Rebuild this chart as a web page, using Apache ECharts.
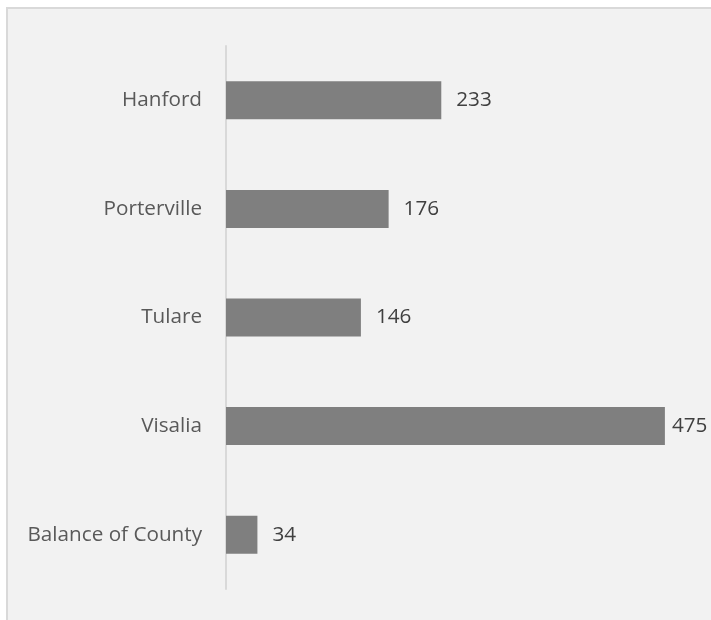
<!DOCTYPE html>
<html><head><meta charset="utf-8">
<script src="https://cdn.jsdelivr.net/npm/echarts@6/dist/echarts.min.js"></script>
<style>html,body{margin:0;padding:0;background:#fff}#c{width:711px;height:620px}</style>
</head><body><div id="c"></div>
<script>
const categories = ['Hanford', 'Porterville', 'Tulare', 'Visalia', 'Balance of County'];
const values = [233, 176, 146, 475, 34];
const labelDistances = [15, 15, 15, 7, 15];

const chart = echarts.init(document.getElementById('c'), null, {renderer: 'canvas'});
chart.setOption({
  backgroundColor: '#ffffff',
  animation: false,
  graphic: [{
    type: 'rect', silent: true, z: -10,
    shape: {x: 7, y: 8, width: 720, height: 630},
    style: {fill: '#f2f2f2', stroke: '#d9d9d9', lineWidth: 2}
  }],
  grid: {left: 226, top: 46, width: 462, height: 543},
  xAxis: {type: 'value', min: 0, max: 500, show: false},
  yAxis: {
    type: 'category', data: categories, inverse: true,
    axisLine: {show: true, lineStyle: {color: '#d9d9d9', width: 2}},
    axisTick: {show: false},
    axisLabel: {color: '#595959', fontFamily: 'Open Sans', fontSize: 20.7, margin: 24}
  },
  series: [{
    type: 'bar',
    data: values.map((v, i) => ({value: v, label: {distance: labelDistances[i]}})),
    barCategoryGap: '65%',
    itemStyle: {color: '#7f7f7f'},
    label: {show: true, position: 'right', color: '#404040', fontFamily: 'Open Sans', fontSize: 20.7}
  }]
});
</script></body></html>
